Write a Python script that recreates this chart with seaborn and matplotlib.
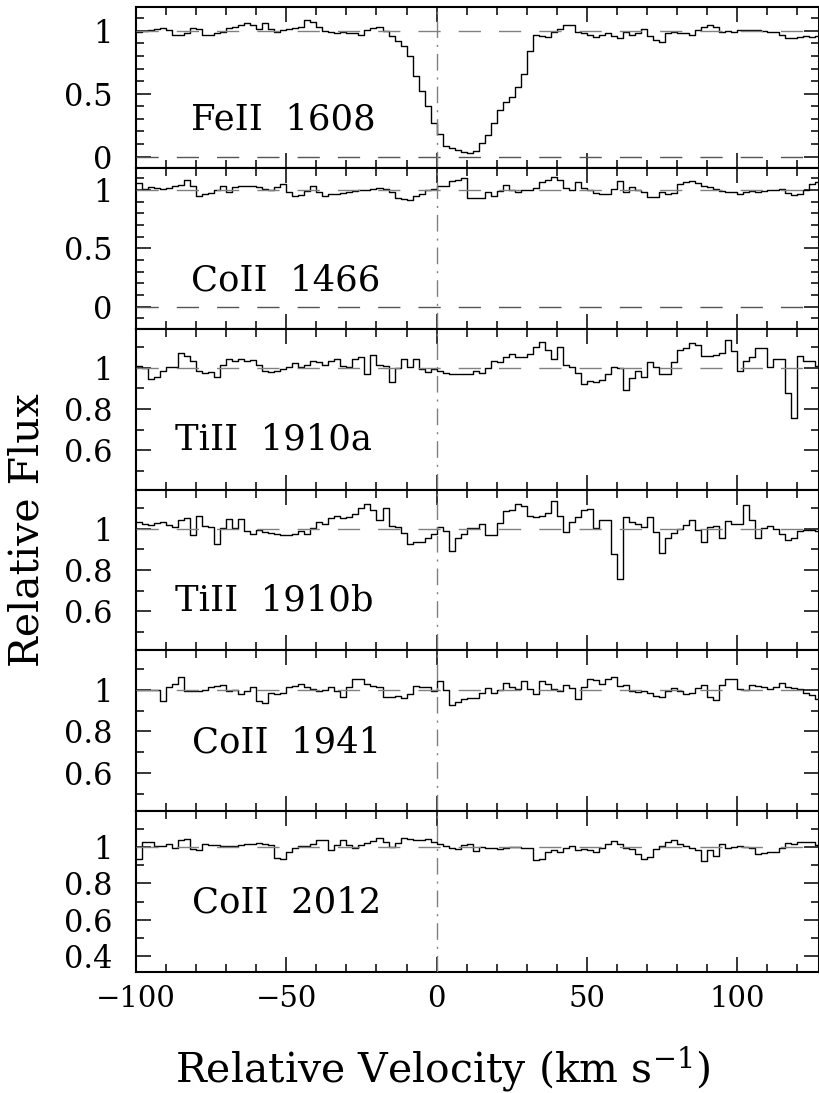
import numpy as np
import pandas as pd
import matplotlib
matplotlib.use("Agg")
import matplotlib.pyplot as plt
import seaborn as sns
from matplotlib.ticker import MultipleLocator, FixedLocator, FuncFormatter

# ---------------- data ----------------
V_START = -100.0   # km/s, left edge of first bin
V_STEP = 2.0       # km/s, bin width

fe1608 = [0.995, 1.0, 1.008, 1.013, 1.02, 1.008, 0.966, 0.97, 0.98, 1.02,
          1.013, 0.97, 0.966, 0.98, 0.99, 1.024, 1.034, 1.045, 1.06, 1.05,
          1.013, 1.06, 1.013, 0.99, 1.008, 1.013, 1.024, 1.034, 1.087, 1.07,
          1.034, 1.0, 0.99, 0.987, 0.99, 0.987, 0.98, 0.97, 1.003, 1.02,
          1.03, 0.997, 0.96, 0.923, 0.876, 0.80, 0.643, 0.52, 0.40, 0.267,
          0.18, 0.08, 0.066, 0.055, 0.035, 0.03, 0.04, 0.11, 0.175, 0.27,
          0.37, 0.43, 0.47, 0.55, 0.66, 0.836, 0.968, 0.96, 0.955, 0.995,
          1.013, 1.048, 1.045, 0.99, 0.98, 0.97, 0.955, 0.966, 0.98, 0.96,
          0.94, 0.99, 0.966, 0.98, 1.013, 0.96, 0.93, 0.913, 0.98, 0.99,
          0.987, 0.98, 0.97, 1.008, 1.03, 1.045, 1.03, 0.99, 1.0, 0.99,
          1.003, 1.008, 1.003, 1.003, 0.997, 0.99, 0.99, 0.968, 0.94, 0.945,
          0.95, 0.96, 0.95, 0.96]

co1466 = [1.057, 1.009, 1.026, 1.014, 1.009, 1.014, 1.031, 1.043, 1.083, 1.037,
          0.951, 0.969, 0.974, 0.997, 1.037, 0.98, 1.026, 1.037, 1.037, 1.031,
          1.026, 1.009, 0.997, 1.026, 1.054, 0.986, 0.951, 0.957, 0.991, 1.031,
          0.986, 0.951, 0.963, 0.969, 0.974, 0.98, 0.991, 0.997, 1.003, 1.009,
          1.014, 1.009, 0.986, 0.929, 0.923, 0.917, 0.951, 0.963, 0.997, 1.009,
          1.037, 1.031, 1.077, 1.089, 1.106, 0.934, 0.929, 0.929, 0.986, 0.946,
          0.991, 1.043, 0.997, 0.986, 1.003, 0.997, 1.02, 1.071, 1.089, 1.111,
          1.089, 1.014, 1.003, 1.071, 1.014, 0.997, 0.974, 0.963, 0.969, 1.009,
          1.077, 0.986, 1.026, 0.997, 0.986, 0.94, 0.94, 0.986, 0.963, 0.974,
          1.054, 1.066, 1.077, 1.06, 1.031, 1.026, 1.009, 0.991, 0.986, 0.98,
          0.963, 0.98, 0.991, 0.986, 0.991, 0.997, 0.997, 1.009, 0.974, 0.957,
          0.969, 0.997, 1.054, 1.071]

ti1910a = [1.008, 1.0, 0.944, 0.955, 0.984, 1.003, 1.006, 1.073, 1.056, 1.032,
           0.984, 0.976, 0.981, 0.955, 1.016, 1.045, 1.035, 1.042, 1.035, 1.039,
           1.013, 0.984, 0.981, 0.984, 0.992, 1.003, 1.023, 1.006, 1.013, 1.035,
           1.029, 1.016, 1.035, 1.045, 1.01, 1.003, 1.042, 1.052, 0.971, 1.061,
           1.013, 1.01, 0.932, 1.0, 1.042, 1.006, 1.045, 0.994, 0.981, 0.994,
           0.984, 0.974, 0.971, 0.971, 0.971, 0.971, 0.984, 0.976, 1.0, 1.035,
           1.026, 1.052, 1.065, 1.052, 1.055, 1.068, 1.1, 1.126, 1.087, 1.045,
           1.1, 1.016, 1.006, 0.976, 0.923, 0.935, 0.932, 0.942, 0.968, 1.006,
           1.0, 0.894, 0.952, 0.984, 0.958, 1.029, 1.006, 0.968, 0.968, 1.029,
           1.087, 1.094, 1.119, 1.113, 1.058, 1.058, 1.061, 1.074, 1.135, 1.081,
           0.984, 1.035, 1.055, 1.094, 1.094, 1.003, 1.042, 1.042, 0.879, 0.758,
           1.058, 1.035, 1.032, 1.008]

ti1910b = [1.034, 1.021, 1.018, 1.027, 1.034, 1.018, 1.008, 1.044, 1.05, 0.969,
           1.063, 1.015, 1.008, 0.927, 1.005, 1.047, 1.005, 1.047, 0.989, 0.973,
           0.992, 0.982, 0.979, 0.973, 0.969, 0.969, 0.973, 0.989, 0.976, 1.005,
           1.034, 1.024, 1.053, 1.063, 1.053, 1.056, 1.069, 1.102, 1.121, 1.089,
           1.04, 1.098, 1.015, 1.008, 0.979, 0.924, 0.934, 0.937, 0.953, 0.973,
           1.008, 0.989, 0.892, 0.956, 0.973, 1.005, 1.005, 1.024, 0.969, 0.969,
           1.029, 1.085, 1.092, 1.118, 1.111, 1.06, 1.056, 1.063, 1.076, 1.134,
           1.06, 0.984, 1.034, 1.056, 1.092, 1.095, 1.002, 1.04, 1.04, 0.879,
           0.758, 1.056, 1.034, 1.024, 1.008, 1.056, 0.985, 0.884, 0.953, 0.979,
           0.998, 1.018, 1.04, 0.995, 0.934, 1.008, 1.011, 0.956, 1.037, 1.024,
           1.021, 1.115, 1.044, 0.956, 1.005, 1.011, 0.998, 0.973, 0.947, 0.956,
           0.989, 0.995, 0.995, 0.989]

co1941 = [0.998, 0.998, 0.998, 0.998, 0.947, 1.011, 1.027, 1.06, 0.995, 0.992,
          0.995, 0.998, 1.015, 1.018, 1.024, 0.992, 0.998, 0.979, 0.992, 1.011,
          0.947, 0.937, 0.982, 0.979, 0.985, 1.011, 1.018, 1.027, 1.011, 1.002,
          0.995, 0.998, 1.011, 0.995, 0.963, 1.011, 1.053, 1.05, 1.027, 1.018,
          1.011, 0.963, 0.966, 0.969, 0.96, 0.979, 1.018, 1.011, 1.015, 0.995,
          1.04, 0.998, 0.927, 0.939, 0.956, 0.96, 0.958, 0.982, 1.008, 0.985,
          0.998, 1.031, 1.011, 1.002, 1.044, 1.002, 0.979, 1.044, 1.027, 1.002,
          0.992, 1.021, 1.008, 0.956, 1.011, 1.053, 1.047, 1.027, 1.053, 1.06,
          1.018, 1.021, 0.992, 0.989, 0.995, 0.982, 0.969, 0.963, 0.992, 1.008,
          0.995, 0.979, 0.985, 1.008, 1.021, 0.966, 0.953, 1.024, 1.05, 1.05,
          1.005, 0.998, 1.021, 1.018, 1.015, 1.002, 1.015, 1.031, 1.011, 1.008,
          1.002, 0.982, 0.976, 0.955]

co2012 = [0.936, 1.027, 1.027, 1.002, 1.002, 1.013, 0.991, 1.038, 1.045, 0.987,
          0.98, 1.013, 1.009, 1.009, 1.005, 1.005, 1.002, 1.009, 1.013, 1.016,
          1.02, 1.013, 1.009, 0.94, 0.933, 0.973, 0.991, 1.002, 1.005, 1.013,
          1.035, 1.038, 0.98, 1.009, 1.038, 1.009, 0.995, 1.009, 1.02, 1.031,
          1.049, 1.024, 0.998, 1.02, 1.049, 1.042, 1.035, 1.038, 1.042, 1.024,
          1.013, 1.005, 0.991, 0.987, 1.009, 1.013, 0.978, 0.998, 0.991, 0.995,
          0.987, 0.995, 0.998, 0.998, 0.991, 0.991, 0.927, 0.933, 0.969, 0.98,
          0.973, 0.991, 1.002, 0.98, 0.987, 0.984, 0.973, 0.991, 1.016, 1.031,
          1.013, 0.995, 0.987, 0.958, 0.936, 0.944, 0.987, 1.002, 1.024, 1.035,
          1.013, 1.005, 0.991, 0.98, 0.925, 0.984, 0.951, 1.013, 0.995, 0.998,
          1.002, 0.998, 0.991, 0.962, 0.965, 0.973, 0.973, 0.991, 1.02, 1.016,
          1.024, 1.027, 1.027, 1.009]

labels = ["FeII  1608", "CoII  1466", "TiII  1910a", "TiII  1910b", "CoII  1941", "CoII  2012"]
series = [fe1608, co1466, ti1910a, ti1910b, co1941, co2012]
ylims = [(-0.09, 1.19), (-0.19, 1.19), (0.41, 1.19), (0.41, 1.19), (0.415, 1.19), (0.315, 1.195)]
yticks = [[0, 0.5, 1], [0, 0.5, 1], [0.6, 0.8, 1], [0.6, 0.8, 1], [0.6, 0.8, 1], [0.4, 0.6, 0.8, 1]]
zero_lines = [True, True, False, False, False, False]
label_pos = [(0.080, 0.30), (0.080, 0.30), (0.057, 0.31), (0.057, 0.31), (0.082, 0.43), (0.082, 0.43)]

# ---------------- style ----------------
sns.set_style("ticks")
plt.rcParams["font.family"] = ["DejaVu Serif"]
plt.rcParams["mathtext.fontset"] = "dejavuserif"
for key in ["text.color", "axes.labelcolor", "xtick.color", "ytick.color", "axes.edgecolor"]:
    plt.rcParams[key] = "black"

W, H = 820, 1093
fig = plt.figure(figsize=(W / 100, H / 100), dpi=100)
axes = fig.subplots(6, 1, sharex=True)
fig.subplots_adjust(left=136 / W, right=819 / W, top=1 - 7 / H, bottom=1 - 972 / H, hspace=0)

XTICK_FS = 21
YTICK_FS = 22
LAB_FS = 25.5

for i, ax in enumerate(axes):
    vals = np.asarray(series[i], dtype=float)
    n = len(vals)
    v = V_START + V_STEP * np.arange(n + 1)
    y = np.append(vals, vals[-1])
    df = pd.DataFrame({"v": v, "flux": y})
    sns.lineplot(data=df, x="v", y="flux", ax=ax, drawstyle="steps-post",
                 color="black", linewidth=1.0, estimator=None, sort=False, zorder=2)
    ax.axhline(1.0, color="#808080", lw=1.0, dashes=(16, 13), zorder=3)
    if zero_lines[i]:
        ax.axhline(0.0, color="#555555", lw=1.0, dashes=(16, 13), zorder=3)
    ax.axvline(0.0, color="#808080", lw=1.0, dashes=(12, 5, 1.5, 5), zorder=3)

    ax.set_xlim(-100, 127.2)
    ax.set_ylim(*ylims[i])
    ax.yaxis.set_major_locator(FixedLocator(yticks[i]))
    ax.yaxis.set_minor_locator(MultipleLocator(0.1))
    ax.yaxis.set_major_formatter(FuncFormatter(lambda val, p: f"{val:g}"))
    ax.xaxis.set_major_locator(MultipleLocator(50))
    ax.xaxis.set_minor_locator(MultipleLocator(10))
    ax.tick_params(which="both", direction="in", top=True, right=True, width=1.1,
                   color="black", labelcolor="black")
    ax.tick_params(which="major", length=10.5)
    ax.tick_params(axis="y", which="major", pad=17, labelsize=YTICK_FS)
    ax.tick_params(axis="x", which="major", pad=9, labelsize=XTICK_FS)
    ax.tick_params(which="minor", length=5.5)
    for s in ax.spines.values():
        s.set_linewidth(1.5)
        s.set_color("black")
    ax.set_xlabel("")
    ax.set_ylabel("")
    ax.text(label_pos[i][0], label_pos[i][1], labels[i], transform=ax.transAxes,
            ha="left", va="center", fontsize=LAB_FS, color="black")
    if i < len(axes) - 1:
        ax.tick_params(axis="x", labelbottom=False)

fig.text(443 / W, 1 - 1070 / H, r"Relative Velocity (km s$^{-1}$)", ha="center", va="center",
         fontsize=29.5, color="black")
fig.text(28 / W, 1 - 530 / H, "Relative Flux", ha="center", va="center", rotation=90,
         fontsize=29.5, color="black")

fig.savefig("out.png", dpi=100)
